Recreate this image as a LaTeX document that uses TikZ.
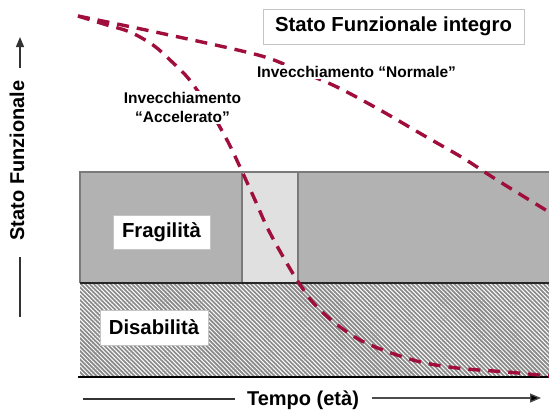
\documentclass[tikz,border=0pt]{standalone}
\usepackage{fontspec}
\setmainfont{Liberation Sans}
\usetikzlibrary{arrows.meta,patterns.meta}
\definecolor{curvecol}{HTML}{A00E3C}
\definecolor{bandgray}{HTML}{B2B2B2}
\definecolor{colgray}{HTML}{E0E0E0}
\definecolor{edgegray}{HTML}{7A7A7A}
\definecolor{boxedge}{HTML}{C4C4C4}
\definecolor{hatchbase}{HTML}{8A8A8A}
\tikzset{
  curve/.style={draw=curvecol,line width=3.4pt,dash pattern=on 12pt off 8pt},
  labelbox/.style={draw=boxedge,fill=white,line width=1pt,inner sep=0pt,font=\fontsize{20.3}{24}\selectfont\bfseries},
  smalllabel/.style={fill=white,inner sep=1pt,font=\fontsize{15.5}{19}\selectfont\bfseries,align=center},
  axistext/.style={font=\fontsize{20}{24}\selectfont\bfseries,inner sep=0pt},
  axisline/.style={line width=1.3pt,draw=black!80},
}
\begin{document}
\begin{tikzpicture}[x=1pt,y=-1pt]
\useasboundingbox (0,0) rectangle (549,413);
% fragility band
\fill[bandgray] (80,172) rectangle (549,283);
\fill[colgray] (242,172) rectangle (298,283);
\draw[edgegray,line width=1.3pt] (80,283) -- (80,172) -- (549,172);
\draw[edgegray,line width=1.3pt] (242,172) -- (242,283);
\draw[edgegray,line width=1.3pt] (298,172) -- (298,283);
% disability hatch
\fill[hatchbase] (80,283) rectangle (549,376);
\fill[pattern={Lines[angle=-45,distance=3pt,line width=1pt]},pattern color=white] (80,283) rectangle (549,376);
\draw[black!85,line width=1.2pt] (80,283) -- (549,283);
\draw[black,line width=2pt] (78,377) -- (549,377);
% curves
\path[curve] plot[smooth,tension=0.55] coordinates {(78,16) (160,33) (258,55) (297,70) (337,87) (380,110) (423,135) (463,158) (497,180) (549,212)};
\path[curve] plot[smooth,tension=0.55] coordinates {(78,16) (107,25) (130,32) (153,45) (170,60) (188,78) (207,105) (227,140) (240,167) (255,200) (270,233) (297,280) (320,310) (360,340) (413,360) (457,368) (507,372) (549,376)};
% labels
\node[labelbox,minimum width=261pt,minimum height=35pt] (title) at (393.5,26.5) {Stato Funzionale integro};
\node[labelbox,minimum width=97pt,minimum height=34pt] (frag) at (161.5,232) {Fragilità};
\node[labelbox,minimum width=108pt,minimum height=35pt] (dis) at (154,327.5) {Disabilità};
\node[smalllabel] (norm) at (356.5,72) {Invecchiamento “Normale”};
\node[smalllabel] (acc) at (182.5,107.5) {Invecchiamento\\“Accelerato”};
% axes
\node[axistext,rotate=90] (ylab) at (17,160.5) {Stato Funzionale};
\coordinate (yup0) at (20,68);
\coordinate (ytop) at (20,37);
\coordinate (ydown0) at (20,257);
\coordinate (ybot) at (20,317);
\draw[axisline,-{Triangle[length=10pt,width=8pt]}] (yup0) -- (ytop);
\draw[axisline] (ydown0) -- (ybot);
\node[axistext] (xlab) at (303,400) {Tempo (età)};
\coordinate (xl0) at (235,399);
\coordinate (xleft) at (83,399);
\coordinate (xr0) at (372,398);
\coordinate (xright) at (541,398);
\draw[axisline] (xl0) -- (xleft);
\draw[line width=1.3pt,draw=black!70,-{Triangle[length=11pt,width=9pt,fill=black]}] (xr0) -- (xright);
\end{tikzpicture}
\end{document}
